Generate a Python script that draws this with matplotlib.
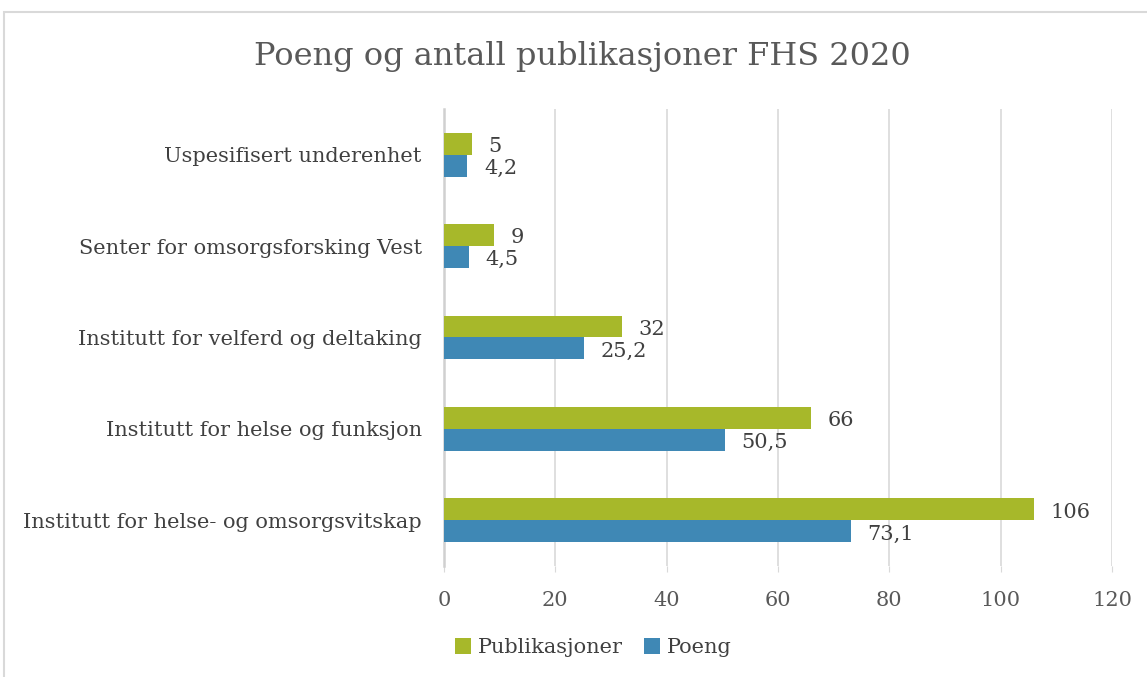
import numpy as np
import matplotlib.pyplot as plt
from matplotlib.patches import Rectangle

enheter = ['Institutt for helse- og omsorgsvitskap',
           'Institutt for helse og funksjon',
           'Institutt for velferd og deltaking',
           'Senter for omsorgsforsking Vest',
           'Uspesifisert underenhet']
publikasjoner = [106, 66, 32, 9, 5]
poeng = [73.1, 50.5, 25.2, 4.5, 4.2]

gronn = '#a7b82a'
bla = '#3f88b5'
tekst = '#404040'

plt.rcParams['font.family'] = ['DejaVu Serif']

fig = plt.figure(figsize=(11.47, 6.77), dpi=100)
ax = fig.add_axes([0.387, 0.164, 0.5825, 0.675])

y = np.arange(len(enheter))
h = 0.24
b1 = ax.barh(y + h / 2, publikasjoner, height=h, color=gronn, label='Publikasjoner', zorder=3)
b2 = ax.barh(y - h / 2, poeng, height=h, color=bla, label='Poeng', zorder=3)

for bars, vals in [(b1, publikasjoner), (b2, poeng)]:
    for r, v in zip(bars, vals):
        txt = f'{v:g}'.replace('.', ',')
        ax.annotate(txt, (r.get_width(), r.get_y() + r.get_height() / 2),
                    xytext=(12, -2), textcoords='offset points',
                    ha='left', va='center', fontsize=15, color=tekst)

ax.set_xlim(0, 120)
ax.set_ylim(-0.5, 4.5)
ax.set_xticks(np.arange(0, 121, 20))
ax.set_yticks(y)
ax.set_yticklabels(enheter, fontsize=15, color=tekst)
ax.tick_params(axis='x', labelsize=15, labelcolor='#595959', length=4, color='#d9d9d9', pad=14)
ax.tick_params(axis='y', length=0, pad=16)
ax.grid(axis='x', color='#d9d9d9', linewidth=1.2, zorder=0)
for s in ['top', 'right', 'bottom']:
    ax.spines[s].set_visible(False)
ax.spines['left'].set_color('#d0d0d0')
ax.spines['left'].set_linewidth(1.8)

fig.suptitle('Poeng og antall publikasjoner FHS 2020', x=0.508, y=0.94,
             fontsize=23, color='#595959')

fig.legend(handles=[b1, b2], loc='center', bbox_to_anchor=(0.517, 0.043), ncol=2,
           frameon=False, fontsize=15, handlelength=0.8, handleheight=0.8,
           handletextpad=0.3, columnspacing=1.0, labelcolor=tekst)

fig.patches.append(Rectangle((4 / 1147, -0.1), 1.2, 1 - 12 / 677 + 0.1,
                             transform=fig.transFigure, fill=False,
                             edgecolor='#d9d9d9', linewidth=1.5))

fig.savefig('out.png', dpi=100)
